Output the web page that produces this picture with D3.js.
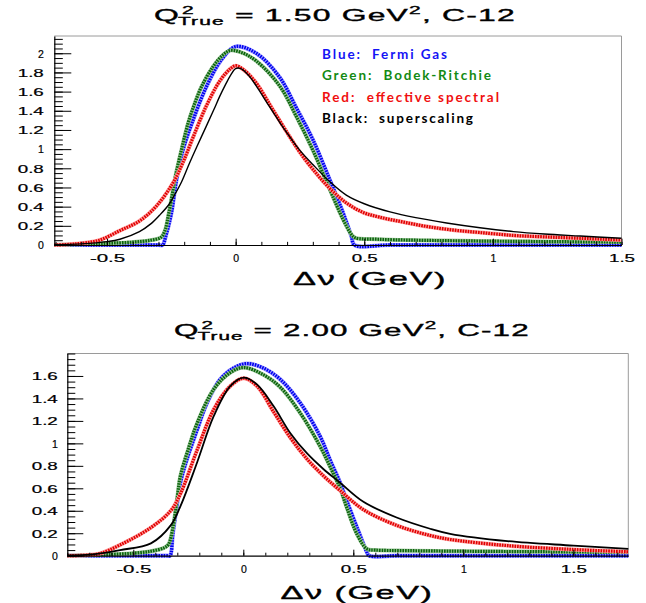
<!DOCTYPE html>
<html>
<head>
<meta charset="utf-8">
<script src="https://cdn.jsdelivr.net/npm/d3@7"></script>
<style>
  body { margin: 0; background: #fff; }
  svg { display: block; }
</style>
</head>
<body>
<svg id="chart" width="646" height="603"></svg>
<script>
// ---- Q2 = 1.50 GeV2 panel ----
const fgX1 = [-0.705, -0.30, -0.284, -0.272, -0.25, -0.23, -0.205, -0.166, -0.114, -0.056, 0.0, 0.08, 0.171, 0.236, 0.30, 0.366, 0.417, 0.45, 0.462, 0.60, 1.0, 1.5];
const fgY1 = [0, 0, 0, 0.09, 0.33, 0.68, 0.99, 1.30, 1.65, 1.93, 2.07, 2.0, 1.75, 1.43, 1.10, 0.68, 0.34, 0.09, 0, 0, 0, 0];

const brX1 = [-0.705, -0.60, -0.50, -0.40, -0.33, -0.29, -0.275, -0.26, -0.245, -0.233, -0.21, -0.185, -0.16, -0.133, -0.088, -0.05, -0.02, 0.03, 0.08, 0.171, 0.236, 0.30, 0.366, 0.417, 0.45, 0.465, 0.55, 0.70, 1.0, 1.25, 1.5];
const brY1 = [0.0, 0.008, 0.018, 0.03, 0.05, 0.08, 0.15, 0.33, 0.55, 0.73, 1.0, 1.27, 1.47, 1.65, 1.86, 1.98, 2.03, 2.0, 1.92, 1.66, 1.34, 0.99, 0.58, 0.27, 0.11, 0.075, 0.06, 0.05, 0.04, 0.035, 0.03];

const esX1 = [-0.705, -0.62, -0.53, -0.45, -0.374, -0.31, -0.245, -0.205, -0.166, -0.114, -0.062, -0.02, 0.0, 0.03, 0.08, 0.145, 0.21, 0.249, 0.30, 0.366, 0.43, 0.495, 0.56, 0.65, 0.75, 0.85, 0.95, 1.08, 1.2, 1.34, 1.5];
const esY1 = [0.0, 0.012, 0.05, 0.15, 0.25, 0.40, 0.64, 0.86, 1.12, 1.45, 1.71, 1.84, 1.87, 1.83, 1.69, 1.41, 1.13, 0.97, 0.79, 0.59, 0.44, 0.34, 0.29, 0.24, 0.19, 0.155, 0.13, 0.10, 0.085, 0.07, 0.052];

const ssX1 = [-0.705, -0.60, -0.50, -0.45, -0.374, -0.33, -0.296, -0.26, -0.24, -0.21, -0.18, -0.15, -0.114, -0.085, -0.062, -0.04, -0.02, 0.0, 0.02, 0.05, 0.08, 0.125, 0.171, 0.21, 0.249, 0.30, 0.366, 0.43, 0.50, 0.60, 0.70, 0.82, 0.95, 1.08, 1.2, 1.34, 1.5];
const ssY1 = [0.004, 0.012, 0.035, 0.06, 0.14, 0.22, 0.31, 0.42, 0.51, 0.66, 0.85, 1.03, 1.24, 1.41, 1.55, 1.67, 1.77, 1.84, 1.84, 1.77, 1.66, 1.47, 1.28, 1.13, 0.99, 0.84, 0.66, 0.52, 0.43, 0.345, 0.285, 0.23, 0.18, 0.14, 0.115, 0.094, 0.07];

// ---- Q2 = 2.00 GeV2 panel ----
const fgX2 = [-0.80, -0.345, -0.333, -0.32, -0.30, -0.286, -0.256, -0.21, -0.165, -0.105, -0.044, 0.017, 0.092, 0.168, 0.259, 0.35, 0.395, 0.44, 0.47, 0.517, 0.562, 0.572, 0.70, 1.75];
const fgY2 = [0, 0, 0, 0.2, 0.47, 0.65, 0.86, 1.12, 1.36, 1.57, 1.67, 1.71, 1.67, 1.57, 1.36, 1.06, 0.85, 0.65, 0.49, 0.25, 0.03, 0, 0, 0];

const brX2 = [-0.80, -0.70, -0.60, -0.50, -0.42, -0.36, -0.34, -0.32, -0.30, -0.286, -0.25, -0.21, -0.135, -0.059, 0.002, 0.092, 0.168, 0.259, 0.35, 0.395, 0.44, 0.47, 0.517, 0.562, 0.60, 0.75, 1.0, 1.4, 1.75];
const brY2 = [0.0, 0.005, 0.012, 0.022, 0.04, 0.07, 0.10, 0.25, 0.52, 0.71, 0.95, 1.18, 1.48, 1.63, 1.675, 1.61, 1.50, 1.27, 0.97, 0.79, 0.60, 0.43, 0.19, 0.06, 0.05, 0.045, 0.04, 0.035, 0.03];

const esX2 = [-0.80, -0.70, -0.65, -0.56, -0.42, -0.33, -0.286, -0.21, -0.135, -0.059, 0.002, 0.062, 0.138, 0.214, 0.29, 0.365, 0.44, 0.546, 0.697, 0.849, 0.94, 1.2, 1.5, 1.75];
const esY2 = [0.0, 0.006, 0.02, 0.096, 0.25, 0.40, 0.55, 0.94, 1.30, 1.51, 1.58, 1.51, 1.28, 1.05, 0.86, 0.71, 0.58, 0.41, 0.27, 0.18, 0.145, 0.09, 0.055, 0.035];

const ssX2 = [-0.80, -0.70, -0.65, -0.56, -0.42, -0.33, -0.286, -0.21, -0.135, -0.059, 0.002, 0.062, 0.138, 0.214, 0.29, 0.365, 0.44, 0.546, 0.697, 0.849, 0.94, 1.2, 1.5, 1.75];
const ssY2 = [0.003, 0.01, 0.02, 0.05, 0.11, 0.27, 0.44, 0.83, 1.24, 1.51, 1.585, 1.525, 1.33, 1.09, 0.91, 0.77, 0.65, 0.48, 0.34, 0.24, 0.195, 0.13, 0.09, 0.06];

// tick labels
const xTicks1 = [-0.5, 0, 0.5, 1, 1.5];
const xTicks2 = [-0.5, 0, 0.5, 1, 1.5];
const yTicks1 = [0, 0.2, 0.4, 0.6, 0.8, 1, 1.2, 1.4, 1.6, 1.8, 2];
const yTicks2 = [0, 0.2, 0.4, 0.6, 0.8, 1, 1.2, 1.4, 1.6];

const legendLabels = ["Blue:  Fermi Gas", "Green:  Bodek-Ritchie", "Red:  effective spectral", "Black:  superscaling"];
const legendColors = ["#1414f5", "#138a13", "#f01010", "#000000"];
const legendWidths = [125, 169, 177, 151];

const svg = d3.select("#chart");
const ROOTFONT = "'Liberation Sans', Arial, Helvetica, sans-serif";

const zip = (xs, ys) => xs.map((v, i) => [v, ys[i]]);
// ROOT labels here are drawn wide, roughly 9px per character
const labelWidth = s => s.length === 1 ? null : 9.2 * s.length - 1.5;

function stretchedText(g, build, cx, baseline, targetW) {
  const t = g.append("text").attr("font-family", ROOTFONT).attr("fill", "#000")
    .attr("stroke", "#000").attr("stroke-width", 0.35);
  build(t);
  const bb = t.node().getBBox();
  const s = targetW / bb.width;
  t.attr("transform", `translate(${cx - (bb.x + bb.width / 2) * s},${baseline}) scale(${s},1)`);
  return t;
}

function styleTickText(sel) {
  sel.attr("font-family", ROOTFONT).attr("font-size", 10.5).attr("fill", "#000")
    .attr("stroke", "#000").attr("stroke-width", 0.2)
    .attr("textLength", d => labelWidth(String(d)))
    .attr("lengthAdjust", "spacingAndGlyphs");
}

function drawPanel(p) {
  const g = svg.append("g");
  const x = d3.scaleLinear().domain(p.xDomain).range([p.left, p.right]);
  const y = d3.scaleLinear().domain(p.yDomain).range([p.bottom, p.top]);

  // grey frame (top, right)
  g.append("path")
    .attr("d", `M${p.left},${p.top}H${p.right}V${p.bottom}`)
    .attr("fill", "none").attr("stroke", "#9a9a9a").attr("stroke-width", 1);

  const line = d3.line().x(d => x(d[0])).y(d => y(d[1])).curve(d3.curveCatmullRom.alpha(0.5));

  const styled = [
    { data: zip(p.fg[0], p.fg[1]), halo: "#a4a4ff", col: "#0000f0", w: 3.4 },
    { data: zip(p.br[0], p.br[1]), halo: "#9cc69c", col: "#0a640a", w: 3.2 },
    { data: zip(p.es[0], p.es[1]), halo: "#ffa4a4", col: "#e00000", w: 3.2 }
  ];
  styled.forEach(s => {
    g.append("path").attr("d", line(s.data)).attr("fill", "none")
      .attr("stroke", s.halo).attr("stroke-width", s.w + 0.8);
    g.append("path").attr("d", line(s.data)).attr("fill", "none")
      .attr("stroke", s.col).attr("stroke-width", s.w)
      .attr("stroke-dasharray", "1.6 1");
  });
  g.append("path").attr("d", line(zip(p.ss[0], p.ss[1]))).attr("fill", "none")
    .attr("stroke", "#000").attr("stroke-width", p.blackW);

  // x axis: minor then major ticks, pointing inward
  const xMinor = d3.range(Math.ceil(p.xDomain[0] * 10), Math.floor(p.xDomain[1] * 10) + 1)
    .map(v => v / 10);
  g.append("g").attr("transform", `translate(0,${p.bottom})`)
    .call(d3.axisBottom(x).tickValues(xMinor).tickSize(-p.xTick / 2).tickFormat(""))
    .call(a => a.select(".domain").remove())
    .selectAll("line").attr("stroke", "#000");
  const xa = g.append("g").attr("transform", `translate(0,${p.bottom})`)
    .call(d3.axisBottom(x).tickValues(p.xTicks).tickSize(-p.xTick).tickSizeOuter(0)
      .tickFormat(d => String(d)));
  xa.attr("font-family", null).attr("font-size", null);
  xa.select(".domain").attr("stroke", "#000").attr("stroke-width", 1.2);
  xa.selectAll("line").attr("stroke", "#000");
  xa.selectAll("text").attr("y", p.xLabelY).attr("dy", null).call(styleTickText);

  // y axis
  const yMinor = d3.range(0, Math.floor(p.yDomain[1] * 20) + 1).map(v => v / 20);
  g.append("g").attr("transform", `translate(${p.left},0)`)
    .call(d3.axisLeft(y).tickValues(yMinor).tickSize(-p.yTick / 2).tickFormat(""))
    .call(a => a.select(".domain").remove())
    .selectAll("line").attr("stroke", "#000");
  const ya = g.append("g").attr("transform", `translate(${p.left},0)`)
    .call(d3.axisLeft(y).tickValues(p.yTicks).tickSize(-p.yTick).tickSizeOuter(0)
      .tickFormat(d => String(d)));
  ya.attr("font-family", null).attr("font-size", null);
  ya.select(".domain").attr("stroke", "#000").attr("stroke-width", 1.2);
  ya.selectAll("line").attr("stroke", "#000");
  ya.selectAll("text").attr("x", -p.yPad).attr("dy", "0.36em").call(styleTickText);

  // title  Q^2_True = ... GeV^2, C-12
  stretchedText(g, t => {
    t.attr("font-size", 16).style("letter-spacing", "0.6px");
    t.append("tspan").text("Q");
    t.append("tspan").attr("font-size", 10.5).attr("dx", 1).attr("dy", -7).text("2");
    t.append("tspan").attr("font-size", 10.5).attr("dx", -8.5).attr("dy", 11).text("True");
    t.append("tspan").attr("dy", -4).style("white-space", "pre").text(" = " + p.q2 + " GeV");
    t.append("tspan").attr("font-size", 10.5).attr("dy", -7).text("2");
    t.append("tspan").attr("dy", 7).text(", C-12");
  }, p.titleX, p.titleY, p.titleW);

  // axis title
  stretchedText(g, t => {
    t.attr("font-size", 18).style("white-space", "pre").style("letter-spacing", "0.8px")
      .text("\u0394\u03bd (GeV)");
  }, p.axTitleX, p.axTitleY, p.axTitleW);

  return { x, y };
}

drawPanel({
  left: 54.3, right: 621.5, top: 36, bottom: 245,
  xDomain: [-0.705, 1.5], yDomain: [0, 2.18],
  xTicks: xTicks1, yTicks: yTicks1,
  xTick: 6.3, yTick: 17, xLabelY: 17, yPad: 10.5,
  fg: [fgX1, fgY1], br: [brX1, brY1], es: [esX1, esY1], ss: [ssX1, ssY1],
  blackW: 1.4,
  q2: "1.50", titleX: 335, titleY: 20.7, titleW: 362,
  axTitleX: 370, axTitleY: 285, axTitleW: 154
});

drawPanel({
  left: 67.3, right: 628.3, top: 353.5, bottom: 555.7,
  xDomain: [-0.80, 1.75], yDomain: [0, 1.8],
  xTicks: xTicks2, yTicks: yTicks2,
  xTick: 6, yTick: 16, xLabelY: 17.5, yPad: 9.5,
  fg: [fgX2, fgY2], br: [brX2, brY2], es: [esX2, esY2], ss: [ssX2, ssY2],
  blackW: 1.8,
  q2: "2.00", titleX: 352, titleY: 335.7, titleW: 356,
  axTitleX: 357, axTitleY: 599, axTitleW: 153
});

// legend (top panel)
const leg = svg.append("g").attr("font-family", "Lato, 'Open Sans', sans-serif")
  .attr("font-weight", 700).attr("font-size", 13.5);
leg.selectAll("text").data(legendLabels).join("text")
  .attr("x", 322)
  .attr("y", (d, i) => 59 + i * 21.4)
  .attr("fill", (d, i) => legendColors[i])
  .attr("textLength", (d, i) => legendWidths[i])
  .attr("lengthAdjust", "spacing")
  .style("white-space", "pre")
  .text(d => d);
</script>
</body>
</html>
